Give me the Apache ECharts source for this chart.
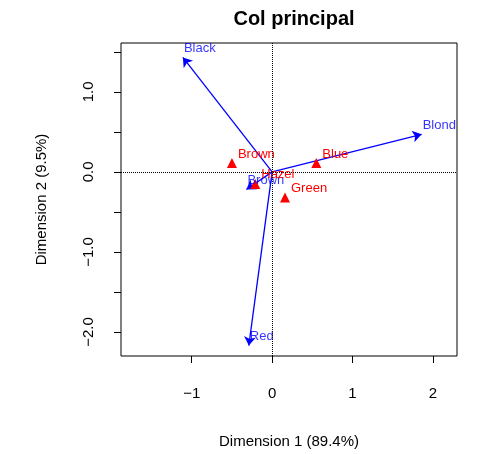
<!DOCTYPE html>
<html>
<head>
<meta charset="utf-8">
<script src="https://cdn.jsdelivr.net/npm/echarts@6/dist/echarts.min.js"></script>
<style>html,body{margin:0;padding:0;background:#fff}#chart{width:485px;height:454px}</style>
</head>
<body>
<div id="chart"></div>
<script>
// column coordinates (arrows, blue)
var colNames = ['Black', 'Brown', 'Red', 'Blond'];
var colX = [-1.11, -0.32, -0.29, 1.86];
var colY = [1.43, -0.22, -2.17, 0.47];
// row coordinates (triangles, red)
var rowNames = ['Brown', 'Blue', 'Hazel', 'Green'];
var rowX = [-0.50, 0.55, -0.21, 0.16];
var rowY = [0.11, 0.11, -0.15, -0.32];
var xTicks = [-1, 0, 1, 2];
var yTicks = [-2, -1.5, -1, -0.5, 0, 0.5, 1, 1.5];
var yLabels = [-2, -1, 0, 1];

var chart = echarts.init(document.getElementById('chart'));
var font = 'Liberation Sans, Arial, sans-serif';
function fmt(v, d) { var s = v.toFixed(d); return v < 0 ? '\u2212' + s.slice(1) : s; }

var arrows = colNames.map(function (n, i) {
    return { coords: [[0, 0], [colX[i], colY[i]]] };
});
var colPts = colNames.map(function (n, i) { return { value: [colX[i], colY[i]], name: n }; });
var rowPts = rowNames.map(function (n, i) { return { value: [rowX[i], rowY[i]], name: n }; });
var lbl = function (c) {
    return { show: true, formatter: '{b}', position: 'right', offset: [-4, -9], color: c, fontSize: 13, fontFamily: font };
};

var option = {
    animation: false,
    title: { text: 'Col principal', left: 289, top: 4, textAlign: 'center',
        textStyle: { fontSize: 20, fontWeight: 'bold', color: '#000', fontFamily: font } },
    grid: { left: 121, right: 28, top: 43, bottom: 97, show: true, borderColor: '#000', borderWidth: 1 },
    xAxis: {
        type: 'value', min: -1.88, max: 2.3,
        name: 'Dimension 1 (89.4%)', nameLocation: 'middle', nameGap: 78,
        nameTextStyle: { fontSize: 15, color: '#000', fontFamily: font },
        axisLine: { show: false, onZero: false }, splitLine: { show: false },
        axisTick: { show: true, length: 7, lineStyle: { color: '#000' }, customValues: xTicks },
        axisLabel: { fontSize: 15, color: '#000', margin: 30, fontFamily: font, customValues: xTicks,
            formatter: function (v) { return fmt(v, 0); } }
    },
    yAxis: {
        type: 'value', min: -2.3, max: 1.61,
        name: 'Dimension 2 (9.5%)', nameLocation: 'middle', nameGap: 72,
        nameTextStyle: { fontSize: 15, color: '#000', fontFamily: font },
        axisLine: { show: false, onZero: false }, splitLine: { show: false },
        axisTick: { show: true, length: 7, lineStyle: { color: '#000' }, customValues: yTicks },
        axisLabel: { fontSize: 15, color: '#000', rotate: 90, margin: 25, fontFamily: font, customValues: yLabels,
            formatter: function (v) { return fmt(v, 1); } }
    },
    series: [
        {
            type: 'lines', coordinateSystem: 'cartesian2d', data: arrows,
            symbol: ['none', 'arrow'], symbolSize: 9,
            lineStyle: { color: '#0000ff', width: 1.3, opacity: 1 },
            markLine: {
                silent: true, symbol: 'none', label: { show: false },
                lineStyle: { color: '#000', type: 'dotted', width: 1, opacity: 1 },
                data: [{ xAxis: 0 }, { yAxis: 0 }]
            }
        },
        { type: 'scatter', data: colPts, symbolSize: 0, label: lbl('#0000ff') },
        { type: 'scatter', data: rowPts, symbol: 'triangle', symbolSize: 10,
            itemStyle: { color: '#ff0000', opacity: 1 }, label: lbl('#ff0000') }
    ]
};
chart.setOption(option);
</script>
</body>
</html>
